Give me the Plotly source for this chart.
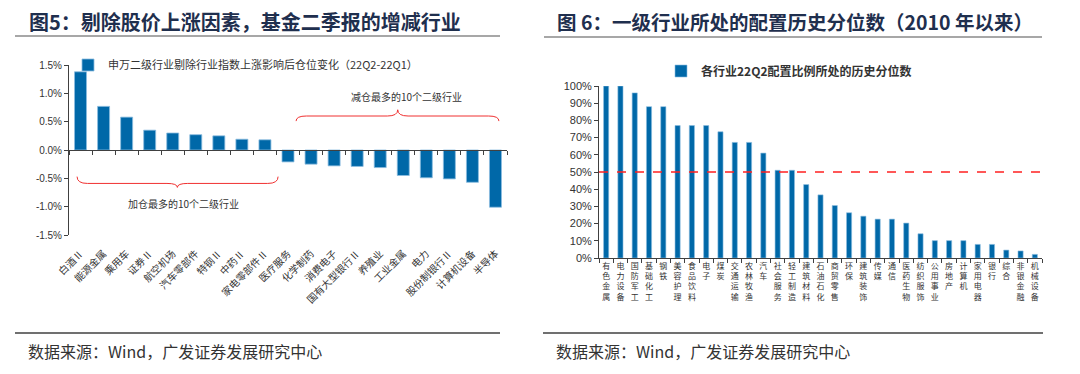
import plotly.graph_objects as go

# ---------------- data ----------------
left_categories = ["白酒Ⅱ", "能源金属", "乘用车", "证券Ⅱ", "航空机场", "汽车零部件", "特钢Ⅱ", "中药Ⅱ",
                   "家电零部件Ⅱ", "医疗服务", "化学制药", "消费电子", "国有大型银行Ⅱ", "养殖业",
                   "工业金属", "电力", "股份制银行Ⅱ", "计算机设备", "半导体"]
left_values = [1.38, 0.77, 0.58, 0.35, 0.30, 0.27, 0.25, 0.19, 0.18,
               -0.21, -0.25, -0.28, -0.29, -0.31, -0.45, -0.49, -0.51, -0.57, -1.01]
left_series_name = "申万二级行业剔除行业指数上涨影响后仓位变化（22Q2-22Q1）"
left_ytick_vals = [-1.5, -1.0, -0.5, 0.0, 0.5, 1.0, 1.5]
left_ytick_text = ["-1.5%", "-1.0%", "-0.5%", "0.0%", "0.5%", "1.0%", "1.5%"]
left_note_add = "加仓最多的10个二级行业"
left_note_cut = "减仓最多的10个二级行业"

right_categories = ["有色金属", "电力设备", "国防军工", "基础化工", "钢铁", "美容护理", "食品饮料", "电子",
                    "煤炭", "交通运输", "农林牧渔", "汽车", "社会服务", "轻工制造", "建筑材料", "石油石化",
                    "商贸零售", "环保", "建筑装饰", "传媒", "通信", "医药生物", "纺织服饰", "公用事业",
                    "房地产", "计算机", "家用电器", "银行", "综合", "非银金融", "机械设备"]
right_values = [100, 100, 96, 88, 88, 77, 77, 77, 73.4, 67.2, 67.2, 61, 51, 51, 42.7, 36.7,
                30.5, 26.3, 24.3, 22.6, 22.6, 20.3, 14.1, 10.1, 10.1, 10.1, 7.9, 7.9, 4.6, 4.1, 2.1]
right_series_name = "各行业22Q2配置比例所处的历史分位数"
right_ytick_vals = [0, 10, 20, 30, 40, 50, 60, 70, 80, 90, 100]
right_ytick_text = ["0%", "10%", "20%", "30%", "40%", "50%", "60%", "70%", "80%", "90%", "100%"]
right_threshold = 50

title_left = "图5：剔除股价上涨因素，基金二季报的增减行业"
title_right = "图 6：一级行业所处的配置历史分位数（2010 年以来）"
source_text = "数据来源：Wind，广发证券发展研究中心"

# ---------------- styling helpers ----------------
W, H = 1080, 374
def px(x):
    return x / W
def py(y):
    return 1 - y / H

CJK = "Noto Sans CJK SC"
NUM = "Liberation Sans, Arial, sans-serif"
BAR = "#0068A8"
BAR_EDGE = "#8cbde0"
TXT = "#333333"
TITLE = "#1F2F4E"

n_left = len(left_categories)
left_rng = [-0.5, n_left - 0.5]
left_boundaries = [i - 0.5 for i in range(n_left + 1)]

fig = go.Figure()

fig.add_trace(go.Bar(
    x=left_categories, y=left_values, name=left_series_name,
    marker=dict(color=BAR, line=dict(color=BAR_EDGE, width=0.8)),
    width=0.52, xaxis="x", yaxis="y", legend="legend",
))
# empty trace to carry the zero-positioned tick axis
fig.add_trace(go.Scatter(x=[], y=[], xaxis="x3", yaxis="y", showlegend=False, hoverinfo="skip"))

fig.add_trace(go.Bar(
    x=["<br>".join(c) for c in right_categories], y=right_values, name=right_series_name,
    marker=dict(color=BAR, line=dict(color=BAR_EDGE, width=0.6)),
    width=0.36, xaxis="x2", yaxis="y2", legend="legend2",
))

ydom_left = [py(235), py(65)]
ydom_right = [py(258), py(86)]

fig.update_layout(
    width=W, height=H,
    margin=dict(l=0, r=0, t=0, b=0, autoexpand=False),
    paper_bgcolor="white", plot_bgcolor="rgba(0,0,0,0)",
    showlegend=True,
    bargap=0.4,
    xaxis=dict(
        domain=[px(69), px(507)], anchor="y", type="category",
        range=left_rng, tickmode="linear", tick0=0, dtick=1,
        showline=False, showgrid=False, zeroline=False, automargin=False,
        ticks="outside", ticklen=8, tickcolor="rgba(0,0,0,0)",
        tickangle=-45, tickfont=dict(family=CJK, size=10, color=TXT),
    ),
    xaxis3=dict(
        overlaying="x", anchor="free", position=py(150), type="linear",
        range=left_rng, tickmode="array", tickvals=left_boundaries,
        showticklabels=False, ticks="outside", ticklen=4, tickcolor="#404040",
        showline=True, linecolor="#404040", linewidth=1, showgrid=False, zeroline=False,
    ),
    yaxis=dict(
        domain=ydom_left, anchor="x", range=[-1.5, 1.5], automargin=False,
        tickmode="array", tickvals=left_ytick_vals, ticktext=left_ytick_text,
        ticks="outside", ticklen=4, tickcolor="#404040",
        showline=True, linecolor="#404040", linewidth=1,
        showgrid=False, zeroline=False,
        tickfont=dict(family=NUM, size=10, color=TXT),
    ),
    xaxis2=dict(
        domain=[px(599), px(1042)], anchor="y2", type="category", automargin=False,
        tickmode="linear", tick0=0, dtick=1, tickson="boundaries",
        ticks="outside", ticklen=4, tickcolor="#404040",
        showline=True, linecolor="#404040", linewidth=1,
        showgrid=False, zeroline=False, tickangle=0,
        tickfont=dict(family=CJK, size=8, color=TXT),
    ),
    yaxis2=dict(
        domain=ydom_right, anchor="x2", range=[0, 100], automargin=False,
        tickmode="array", tickvals=right_ytick_vals, ticktext=right_ytick_text,
        ticks="outside", ticklen=4, tickcolor="#404040",
        showline=True, linecolor="#404040", linewidth=1,
        showgrid=False, zeroline=False,
        tickfont=dict(family=NUM, size=11, color=TXT),
    ),
    legend=dict(
        x=px(68), y=py(65), xanchor="left", yanchor="middle",
        font=dict(family=CJK, size=11, color=TXT), bgcolor="rgba(0,0,0,0)",
        itemwidth=30, itemclick=False, itemdoubleclick=False,
    ),
    legend2=dict(
        x=px(661), y=py(71), xanchor="left", yanchor="middle",
        font=dict(family=CJK, size=12, color=TXT, weight="bold"), bgcolor="rgba(0,0,0,0)",
        itemwidth=30, itemclick=False, itemdoubleclick=False,
    ),
)

shapes = []
# title rules and bottom rules
shapes.append(dict(type="line", xref="paper", yref="paper", x0=px(15), x1=px(500), y0=py(36), y1=py(36),
                   line=dict(color="#8a8a8a", width=1.5)))
shapes.append(dict(type="line", xref="paper", yref="paper", x0=px(544), x1=px(1042), y0=py(37), y1=py(37),
                   line=dict(color="#8a8a8a", width=1.5)))
shapes.append(dict(type="line", xref="paper", yref="paper", x0=px(15), x1=px(500), y0=py(333), y1=py(333),
                   line=dict(color="#404040", width=1.5)))
shapes.append(dict(type="line", xref="paper", yref="paper", x0=px(543), x1=px(1043), y0=py(333), y1=py(333),
                   line=dict(color="#404040", width=1.5)))
# 50% reference line
shapes.append(dict(type="line", xref="x2 domain", yref="y2", x0=0, x1=1, y0=right_threshold, y1=right_threshold,
                   line=dict(color="#FF2020", width=1.3, dash="dash")))


def brace(x0, x1, xc, y_end, y_mid, y_tip, d=0.45):
    return (f"M {x0},{y_end} Q {x0},{y_mid} {x0 + d},{y_mid} L {xc - d},{y_mid} "
            f"Q {xc},{y_mid} {xc},{y_tip} Q {xc},{y_mid} {xc + d},{y_mid} "
            f"L {x1 - d},{y_mid} Q {x1},{y_mid} {x1},{y_end}")

shapes.append(dict(type="path", xref="x3", yref="y", path=brace(-0.15, 8.57, 4.2, -0.47, -0.59, -0.66),
                   line=dict(color="#F03030", width=1)))
shapes.append(dict(type="path", xref="x3", yref="y", path=brace(9.35, 18.15, 13.76, 0.51, 0.60, 0.71),
                   line=dict(color="#F03030", width=1)))
fig.update_layout(shapes=shapes)

annotations = [
    dict(text=f"<b>{title_left}</b>", xref="paper", yref="paper", x=px(27), y=py(21),
         xanchor="left", yanchor="middle", showarrow=False,
         font=dict(family=CJK, size=20, color=TITLE)),
    dict(text=f"<b>{title_right}</b>", xref="paper", yref="paper", x=px(555), y=py(21),
         xanchor="left", yanchor="middle", showarrow=False,
         font=dict(family=CJK, size=19.5, color=TITLE)),
    dict(text=source_text, xref="paper", yref="paper", x=px(26), y=py(351),
         xanchor="left", yanchor="middle", showarrow=False,
         font=dict(family=CJK, size=16, color=TXT)),
    dict(text=source_text, xref="paper", yref="paper", x=px(554), y=py(351),
         xanchor="left", yanchor="middle", showarrow=False,
         font=dict(family=CJK, size=16, color=TXT)),
    dict(text=left_note_add, xref="x3", yref="y", x=4.45, y=-0.95,
         xanchor="center", yanchor="middle", showarrow=False,
         font=dict(family=CJK, size=10, color=TXT)),
    dict(text=left_note_cut, xref="x3", yref="y", x=14.15, y=0.94,
         xanchor="center", yanchor="middle", showarrow=False,
         font=dict(family=CJK, size=10, color=TXT)),
]
fig.update_layout(annotations=annotations)

fig.write_html("out.html", config={"displayModeBar": False},
               post_script="document.body.style.margin='0px';")
